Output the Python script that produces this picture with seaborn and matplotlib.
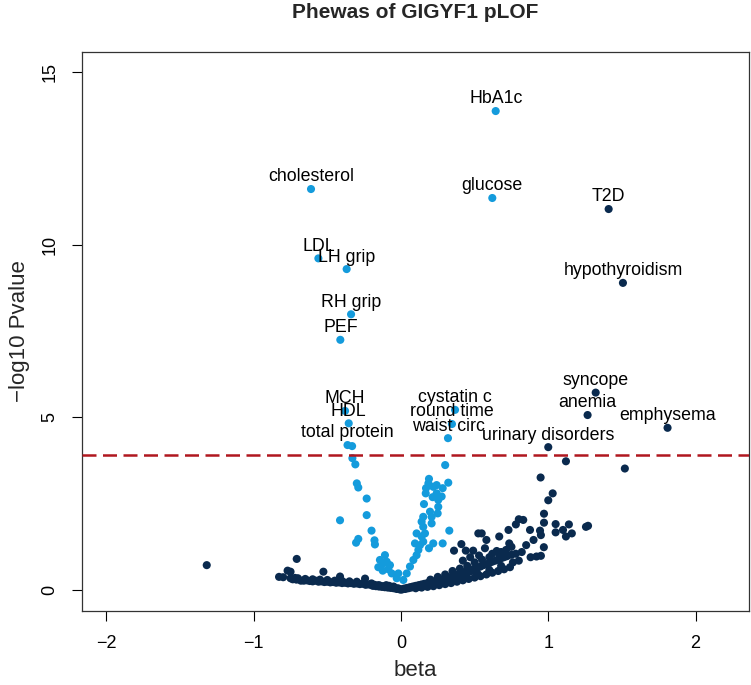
import numpy as np
import pandas as pd
import matplotlib
matplotlib.use("Agg")
import matplotlib.pyplot as plt
import seaborn as sns

# labelled hits
hit_names = ["HbA1c", "glucose", "cholesterol", "LDL", "LH grip", "RH grip", "PEF",
             "MCH", "HDL", "total protein", "cystatin c", "round time", "waist circ",
             "T2D", "hypothyroidism", "syncope", "anemia", "emphysema", "urinary disorders"]
hit_beta = [0.643, 0.620, -0.611, -0.561, -0.369, -0.339, -0.412,
            -0.38, -0.355, -0.363, 0.367, 0.346, 0.319,
            1.41, 1.507, 1.322, 1.267, 1.81, 1.0]
hit_logp = [13.88, 11.36, 11.62, 9.61, 9.30, 7.99, 7.25,
            5.19, 4.83, 4.20, 5.22, 4.81, 4.40,
            11.04, 8.90, 5.72, 5.07, 4.70, 4.14]
hit_type = ["quant"] * 13 + ["binary"] * 6

# quantitative traits, not labelled (light blue)
quant_beta = [-0.332, -0.33, -0.31, -0.30, -0.29, -0.233, -0.233, -0.414, -0.20, -0.29, -0.305,
              -0.18, -0.177, -0.109, -0.143, -0.12, -0.097, -0.075, -0.154, -0.124, -0.086,
              -0.063, -0.029, 0.016, -0.018,
              0.039, 0.061, 0.084, 0.106, 0.118, 0.129, 0.151, 0.14, 0.163, 0.19, 0.219, 0.283,
              0.151, 0.14, 0.151, 0.156, 0.197, 0.208, 0.168, 0.17, 0.186, 0.19, 0.219, 0.215,
              0.242, 0.253, 0.253, 0.249, 0.283, 0.276, 0.242, 0.321, 0.328, 0.30, 0.208,
              0.106, 0.095]
quant_logp = [4.17, 3.82, 3.64, 3.09, 2.97, 2.65, 2.17, 2.02, 1.72, 1.48, 1.37,
              1.44, 1.32, 1.01, 0.87, 0.77, 0.82, 0.72, 0.66, 0.56, 0.60,
              0.48, 0.34, 0.29, 0.48,
              0.48, 0.68, 0.87, 1.01, 1.16, 1.30, 1.40, 1.55, 1.64, 1.21, 1.35, 1.35,
              1.83, 1.98, 2.12, 2.49, 2.27, 2.12, 2.80, 2.95, 3.09, 3.22, 2.99, 2.69,
              2.80, 2.61, 2.41, 2.22, 2.95, 2.71, 3.04, 3.11, 1.72, 3.62, 1.93,
              1.64, 1.35]

# binary traits, not labelled (dark blue)
bin_beta = [-1.319, -0.828, -0.77, -0.75, -0.708, -0.70, -0.75, -0.735, -0.71, -0.68, -0.66,
            -0.64, -0.62, -0.60, -0.58, -0.56, -0.54, -0.527, -0.52, -0.50, -0.48, -0.46,
            -0.44, -0.414, -0.42, -0.40, -0.38, -0.36, -0.34, -0.32, -0.30, -0.28, -0.26,
            -0.244, -0.24, -0.22, -0.20, -0.19, -0.18, -0.17, -0.16, -0.15, -0.14, -0.13,
            -0.12, -0.11, -0.10, -0.09, -0.08, -0.07, -0.06, -0.05, -0.04, -0.03, -0.02,
            -0.01, 0.00, -0.60, -0.45, -0.30, -0.20, -0.10, -0.05,
            -0.80, -0.72, -0.65, -0.55, -0.50, -0.40, -0.35, -0.25, -0.15, -0.08,
            0.01, 0.02, 0.03, 0.04, 0.05, 0.06, 0.07, 0.08, 0.09, 0.10, 0.11, 0.12, 0.13,
            0.14, 0.15, 0.16, 0.17, 0.18, 0.19, 0.20, 0.21, 0.22, 0.23, 0.24, 0.25, 0.26,
            0.27, 0.28, 0.29, 0.30, 0.31, 0.32, 0.33, 0.34, 0.35, 0.36, 0.37, 0.38, 0.39,
            0.40, 0.41, 0.42, 0.43, 0.44, 0.45, 0.46, 0.47, 0.48, 0.49, 0.50, 0.52, 0.54,
            0.56, 0.58, 0.60, 0.62, 0.64, 0.66, 0.68, 0.70, 0.72, 0.75, 0.78, 0.82,
            0.10, 0.14, 0.18, 0.22, 0.26, 0.30, 0.34, 0.38, 0.42, 0.46, 0.50, 0.54, 0.58,
            0.62, 0.66, 0.70, 0.74,
            0.12, 0.20, 0.28, 0.36, 0.44, 0.52, 0.60, 0.68, 0.76,
            0.36, 0.44, 0.49, 0.41, 0.525, 0.58, 0.57, 0.548, 0.65, 0.667, 0.713, 0.735,
            0.73, 0.876, 0.92, 0.95, 0.67, 0.97, 0.944, 0.95, 0.78, 0.80, 0.83, 1.05, 1.14,
            1.05, 1.10, 1.16, 1.12, 1.256, 1.27, 0.971, 0.971, 1.0, 1.03, 0.948, 1.12, 1.52,
            0.30, 0.35, 0.40, 0.45, 0.50, 0.55, 0.60, 0.25, 0.20, 0.42, 0.47, 0.53, 0.62,
            0.68, 0.75, 0.85, 0.90, 0.88, 0.80]
bin_logp = [0.72, 0.38, 0.56, 0.53, 0.90, 0.34, 0.34, 0.31, 0.30, 0.27, 0.27,
            0.28, 0.26, 0.25, 0.27, 0.24, 0.25, 0.53, 0.23, 0.24, 0.22, 0.23,
            0.21, 0.39, 0.22, 0.20, 0.21, 0.19, 0.20, 0.18, 0.19, 0.17, 0.18,
            0.33, 0.15, 0.16, 0.14, 0.12, 0.15, 0.11, 0.13, 0.10, 0.12, 0.09,
            0.11, 0.08, 0.10, 0.07, 0.09, 0.06, 0.08, 0.05, 0.06, 0.03, 0.05,
            0.02, 0.01, 0.31, 0.27, 0.24, 0.19, 0.14, 0.10,
            0.37, 0.35, 0.32, 0.30, 0.29, 0.26, 0.25, 0.21, 0.14, 0.12,
            0.02, 0.04, 0.03, 0.06, 0.05, 0.08, 0.07, 0.10, 0.09, 0.12, 0.11, 0.14, 0.13,
            0.16, 0.15, 0.18, 0.17, 0.20, 0.19, 0.22, 0.21, 0.24, 0.23, 0.26, 0.25, 0.29,
            0.27, 0.31, 0.30, 0.33, 0.32, 0.36, 0.35, 0.38, 0.37, 0.41, 0.40, 0.44, 0.42,
            0.47, 0.45, 0.50, 0.48, 0.53, 0.51, 0.56, 0.54, 0.59, 0.57, 0.62, 0.65, 0.68,
            0.72, 0.75, 0.78, 0.82, 0.85, 0.88, 0.92, 0.95, 0.98, 1.02, 1.05, 1.10,
            0.05, 0.07, 0.09, 0.11, 0.14, 0.17, 0.20, 0.24, 0.28, 0.32, 0.36, 0.40, 0.45,
            0.50, 0.55, 0.60, 0.66,
            0.09, 0.14, 0.21, 0.29, 0.37, 0.47, 0.58, 0.70, 0.80,
            1.14, 1.14, 1.14, 1.33, 1.64, 1.45, 1.21, 1.64, 1.13, 1.55, 1.16, 1.35,
            1.74, 1.74, 0.97, 0.99, 0.97, 1.24, 1.72, 1.59, 1.90, 2.05, 2.03, 1.91, 1.90,
            1.67, 1.74, 1.64, 1.55, 1.83, 1.86, 2.21, 1.95, 2.60, 2.80, 3.26, 3.73, 3.52,
            0.45, 0.55, 0.62, 0.70, 0.80, 0.88, 0.95, 0.38, 0.30, 0.85, 0.95, 1.00, 1.05,
            1.10, 1.25, 1.30, 1.45, 0.95, 0.85]

threshold = 3.9

quant_col = "#149BDC"
bin_col = "#0A2A4E"

df = pd.concat([
    pd.DataFrame({"beta": bin_beta, "logp": bin_logp, "type": "binary"}),
    pd.DataFrame({"beta": quant_beta, "logp": quant_logp, "type": "quant"}),
    pd.DataFrame({"beta": hit_beta, "logp": hit_logp, "type": hit_type}),
], ignore_index=True)

sns.set_style("white")
plt.rcParams["font.family"] = ["Liberation Sans", "DejaVu Sans"]

fig = plt.figure(figsize=(7.51, 6.85), dpi=100)
ax = fig.add_axes([82 / 751, 1 - 611 / 685, (749 - 82) / 751, (611 - 51.7) / 685])

sns.scatterplot(data=df, x="beta", y="logp", hue="type",
                palette={"binary": bin_col, "quant": quant_col},
                s=34, linewidth=0, legend=False, ax=ax, zorder=2)

ax.axhline(threshold, color="#B0171F", lw=1.8, dashes=(5.6, 2.6), zorder=3)

for name, b, p in zip(hit_names, hit_beta, hit_logp):
    ax.annotate(name, (b, p), xytext=(0, 8.7), textcoords="offset points",
                ha="center", va="center", fontsize=12.8, color="black", zorder=4)

ax.set_xlim(-2.166, 2.363)
ax.set_ylim(-0.609, 15.6)
ax.set_xticks([-2, -1, 0, 1, 2])
ax.set_yticks([0, 5, 10, 15])
ax.tick_params(axis="both", direction="out", length=7, width=0.8, pad=10,
               labelsize=13, colors="black", bottom=True, left=True)
ax.tick_params(axis="y", labelrotation=90)
for lbl in ax.get_yticklabels():
    lbl.set_va("center")
for sp in ax.spines.values():
    sp.set_color("#333333")
    sp.set_linewidth(0.9)

ax.set_xlabel("beta", fontsize=16)
ax.set_ylabel("\u2212log10 Pvalue", fontsize=16)
ax.xaxis.set_label_coords(0.5, -59 / 559.3)
ax.yaxis.set_label_coords(-62 / 667, 0.5)
ax.xaxis.label.set_va("center")
ax.yaxis.label.set_va("center")

ax.text(0.5, 1 + 38.7 / 559.3, "Phewas of GIGYF1 pLOF", transform=ax.transAxes,
        ha="center", va="center", fontsize=15, fontweight="bold")

fig.savefig("out.png", dpi=100)
